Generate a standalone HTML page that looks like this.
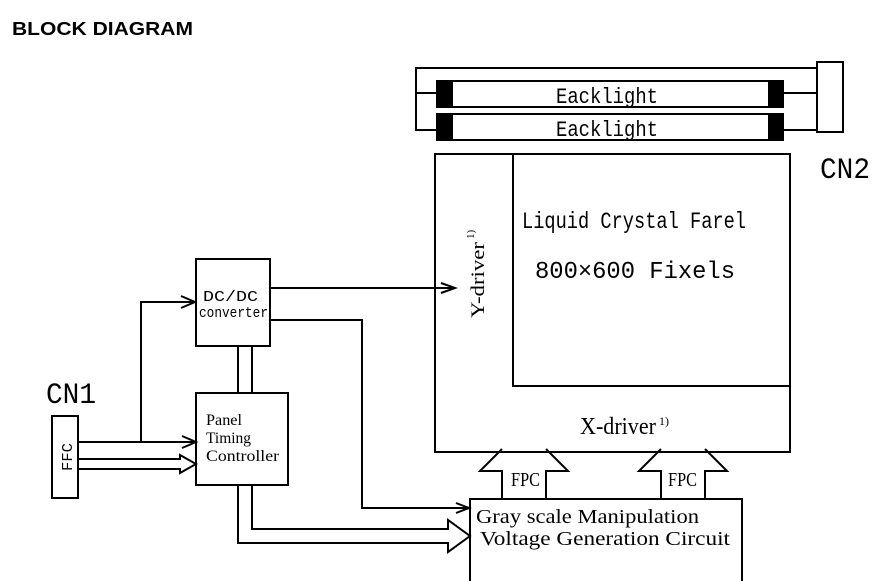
<!DOCTYPE html>
<html><head><meta charset="utf-8"><style>
html,body{margin:0;padding:0;background:#fff;width:891px;height:581px;overflow:hidden}
svg{display:block}
.m{font-family:"Liberation Mono","DejaVu Sans Mono",monospace;fill:#000}
.s{font-family:"Liberation Serif",serif;fill:#000}
</style></head><body>
<svg width="891" height="581" viewBox="0 0 891 581" xmlns="http://www.w3.org/2000/svg">
<text x="12" y="35" font-family="Liberation Sans,Arial,sans-serif" font-weight="bold" font-size="18" textLength="181" lengthAdjust="spacingAndGlyphs">BLOCK DIAGRAM</text>
<g fill="none" stroke="#000" stroke-width="2">
<polyline points="817,68 416,68 416,130 437,130"/>
<line x1="416" y1="93" x2="437" y2="93"/>
<rect x="817" y="62" width="26" height="70"/>
<line x1="783" y1="93" x2="817" y2="93"/>
<line x1="783" y1="130" x2="817" y2="130"/>
<rect x="437" y="81" width="346" height="26"/>
<rect x="437" y="114" width="346" height="26"/>
<rect x="435" y="154" width="355" height="298"/>
<polyline points="513,154 513,386 790,386"/>
<rect x="470" y="499" width="272" height="90"/>
<polyline points="502,499 502,471 480,471 502,449"/>
<polyline points="546,499 546,471 568,471 546,449"/>
<polyline points="661,499 661,471 639,471 661,449"/>
<polyline points="705,499 705,471 727,471 705,449"/>
<rect x="196" y="259" width="74" height="87"/>
<rect x="196" y="393" width="92" height="92"/>
<rect x="52" y="416" width="26" height="82"/>
<line x1="78" y1="442" x2="196" y2="442"/>
<polyline points="182,436 196,442 182,448"/>
<polyline points="141,442 141,302 195,302"/>
<polyline points="181,296 195,302 181,308"/>
<polyline points="78,459 180,459 180,455 196,464 180,473 180,469 78,469"/>
<line x1="238" y1="346" x2="238" y2="393"/>
<line x1="252" y1="346" x2="252" y2="393"/>
<line x1="270" y1="288" x2="455" y2="288"/>
<polyline points="441,283 455,288 441,293"/>
<polyline points="270,320 362,320 362,508 469,508"/>
<polyline points="456,503 469,508 456,513"/>
<polyline points="238,485 238,543 448,543 448,552 470,536 448,520 448,529 252,529 252,485"/>
</g>
<rect x="437" y="81" width="16" height="26" fill="#000"/>
<rect x="768" y="81" width="16" height="26" fill="#000"/>
<rect x="437" y="114" width="16" height="26" fill="#000"/>
<rect x="768" y="114" width="16" height="26" fill="#000"/>
<rect x="555" y="83" width="105" height="22" fill="#fff"/>
<rect x="555" y="115" width="105" height="24" fill="#fff"/>
<text class="m" x="556" y="103" font-size="22" textLength="102" lengthAdjust="spacingAndGlyphs">Eacklight</text>
<text class="m" x="556" y="136" font-size="22" textLength="102" lengthAdjust="spacingAndGlyphs">Eacklight</text>
<text class="m" x="820" y="178" font-size="30" textLength="50" lengthAdjust="spacingAndGlyphs">CN2</text>
<text class="m" x="522" y="228" font-size="23" textLength="224" lengthAdjust="spacingAndGlyphs">Liquid Crystal Farel</text>
<text class="m" x="535" y="278" font-size="24" textLength="200" lengthAdjust="spacingAndGlyphs">800×600 Fixels</text>
<text class="s" transform="translate(484,318) rotate(-90)" font-size="19" textLength="76" lengthAdjust="spacingAndGlyphs">Y-driver</text>
<text class="s" transform="translate(474,239) rotate(-90)" font-size="11">1)</text>
<text class="s" x="580" y="434" font-size="24" textLength="76" lengthAdjust="spacingAndGlyphs">X-driver</text>
<text class="s" x="659" y="425" font-size="12">1)</text>
<text class="s" x="511" y="486" font-size="20" textLength="29" lengthAdjust="spacingAndGlyphs">FPC</text>
<text class="s" x="668" y="486" font-size="20" textLength="29" lengthAdjust="spacingAndGlyphs">FPC</text>
<text class="s" x="476" y="523" font-size="20" textLength="223" lengthAdjust="spacingAndGlyphs">Gray scale Manipulation</text>
<text class="s" x="480" y="545" font-size="20" textLength="250" lengthAdjust="spacingAndGlyphs">Voltage Generation Circuit</text>
<text class="s" x="206" y="425" font-size="16" textLength="36" lengthAdjust="spacingAndGlyphs">Panel</text>
<text class="s" x="206" y="443" font-size="16" textLength="45" lengthAdjust="spacingAndGlyphs">Timing</text>
<text class="s" x="206" y="461" font-size="16" textLength="73" lengthAdjust="spacingAndGlyphs">Controller</text>
<text class="m" x="203" y="301" font-size="15" textLength="55" lengthAdjust="spacingAndGlyphs">DC/DC</text>
<text class="m" x="199" y="317" font-size="15" textLength="69" lengthAdjust="spacingAndGlyphs">converter</text>
<text class="m" x="46" y="403" font-size="30" textLength="50" lengthAdjust="spacingAndGlyphs">CN1</text>
<text class="m" transform="translate(72,471) rotate(-90)" font-size="15" textLength="28" lengthAdjust="spacingAndGlyphs">FFC</text>
</svg>
</body></html>
